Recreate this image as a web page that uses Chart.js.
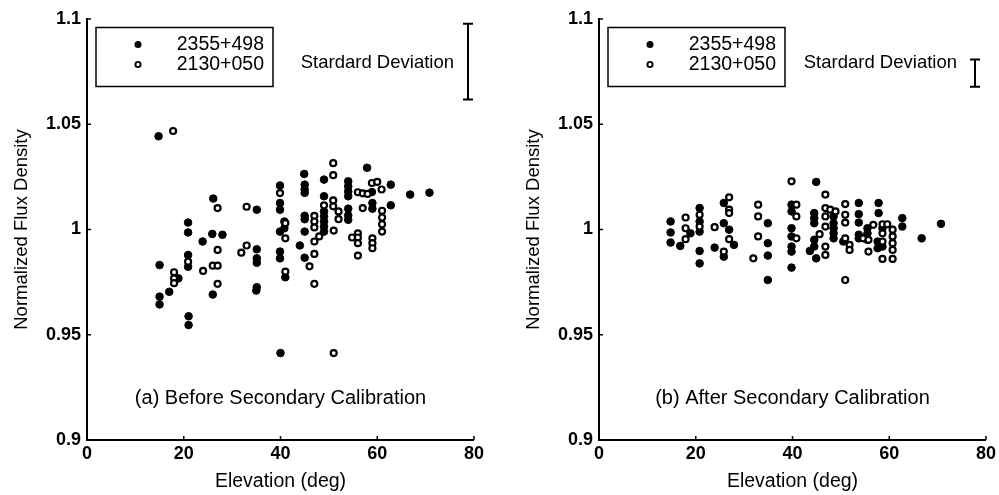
<!DOCTYPE html>
<html>
<head>
<title>Flux density vs elevation</title>
<script src="https://cdn.jsdelivr.net/npm/chart.js@4.4.1/dist/chart.umd.min.js"></script>
<style>
  body { margin: 0; background: #fff; }
  .panel { position: absolute; top: 0; width: 487px; height: 495px; }
</style>
</head>
<body>

<div class="panel" style="left:0px;"><canvas id="before" width="487" height="495"></canvas></div>
<div class="panel" style="left:512px;"><canvas id="after" width="487" height="495"></canvas></div>

<script>
// sources
var seriesNames = ['2355+498', '2130+050'];

// x ticks / y ticks
var xTicks = [0, 20, 40, 60, 80];
var yTicks = [0.9, 0.95, 1, 1.05, 1.1];

// (a) before secondary calibration  [elevation, normalized flux]
var beforeFilled = [[14.8,1.0443],[39.9,1.0209],[26.1,1.0147],[35.1,1.0094],[39.9,1.0126],[39.9,1.0094],
  [20.9,1.0033],[20.9,0.9986],[25.9,0.9979],[28.0,0.9975],[23.9,0.9943],[35.1,0.9906],[35.1,0.9863],
  [35.1,0.9842],[39.9,0.9895],[39.9,0.9863],[39.9,0.999],[15.0,0.9831],[20.9,0.9879],[20.9,0.9823],
  [18.9,0.9768],[35.1,0.9726],[35.0,0.9710],[15.0,0.9681],[15.0,0.9644],[17.0,0.9704],[21.0,0.9588],
  [21.0,0.9546],[26.0,0.9691],[41.0,0.9773],[40.0,0.9413],[57.9,1.0293],[44.9,1.0264],[49.0,1.0237],
  [45.0,1.0213],[45.0,1.0190],[45.0,1.0174],[54.0,1.0229],[54.0,1.0205],[54.0,1.0181],[54.0,1.0158],
  [58.9,1.0178],[62.8,1.0213],[66.8,1.0166],[70.8,1.0175],[49.0,1.0158],[54.0,1.0099],[54.0,1.0067],
  [54.0,1.0046],[59.0,1.0126],[59.0,1.0099],[62.8,1.0115],[45.0,1.0065],[45.0,1.0049],[49.0,1.0086],
  [49.0,1.0062],[49.0,1.0038],[49.0,1.0014],[49.0,0.999],[40.8,1.0038],[40.8,1.0006],[45.0,0.999],
  [44.0,0.9924],[45.0,0.9866]];
var beforeOpen = [[17.8,1.0468],[39.9,1.0173],[27.0,1.0102],[33.0,1.0108],[27.0,0.9903],[33.0,0.9924],
  [31.9,0.989],[41.0,1.003],[41.0,0.9958],[20.9,0.9847],[18.0,0.9797],[18.0,0.9768],[18.0,0.9745],
  [24.0,0.9803],[26.0,0.9828],[27.0,0.9828],[27.0,0.9742],[41.0,0.980],[47.0,0.9742],[51.0,0.9413],
  [50.9,1.0315],[50.9,1.0258],[56.0,1.0177],[57.0,1.0172],[58.0,1.0169],[58.9,1.0221],[60.0,1.0226],
  [60.9,1.0190],[49.0,1.0115],[50.9,1.0138],[50.9,1.011],[52.0,1.0086],[52.0,1.0049],[57.0,1.0102],
  [61.0,1.0089],[61.0,1.0057],[61.0,1.0025],[61.0,0.999],[47.0,1.0065],[47.0,1.0038],[47.0,1.001],
  [51.0,0.9995],[48.0,0.9967],[47.0,0.9943],[47.0,0.9884],[46.0,0.9825],[54.8,0.9962],[56.0,0.9982],
  [56.0,0.9962],[56.0,0.9935],[56.0,0.9876],[59.0,0.9958],[59.0,0.9935],[59.0,0.9911]];

// (b) after secondary calibration
var afterFilled = [[14.8,1.0038],[14.8,0.9986],[14.8,0.9938],[16.8,0.9922],[18.9,0.9982],[20.8,1.0102],
  [20.8,1.0038],[20.8,0.999],[20.8,0.9898],[20.8,0.9839],[23.9,0.9914],[25.8,1.0126],[25.8,1.003],
  [26.9,0.9999],[27.9,0.9927],[25.8,0.9871],[34.9,1.003],[34.9,0.9935],[34.9,0.9876],[34.9,0.976],
  [44.9,1.0226],[53.7,1.0126],[53.7,1.0073],[53.7,1.0033],[57.8,1.0126],[57.8,1.0078],[62.7,1.0054],
  [62.7,1.0014],[70.7,1.0027],[66.7,0.9958],[39.8,1.0118],[39.8,1.0086],[39.8,1.0006],[39.8,0.9967],
  [39.8,0.9919],[39.8,0.9895],[39.8,0.9819],[44.5,1.0078],[44.5,1.0054],[44.5,1.003],[44.5,0.9951],
  [44.5,0.9919],[43.6,0.9898],[44.9,0.9863],[48.5,1.0062],[48.5,1.003],[48.5,1.0006],[48.5,0.9982],
  [48.5,0.9958],[50.5,0.9943],[53.7,0.9975],[53.7,0.9958],[55.5,1.0006],[55.5,0.9982],[55.5,0.9951],
  [57.6,0.9943],[57.6,0.9911],[58.6,1.0006],[58.6,0.9919]];
var afterOpen = [[17.9,1.0057],[17.9,1.0006],[17.9,0.9954],[20.8,1.007],[20.8,1.0014],[23.9,1.0011],
  [26.9,1.0153],[26.9,1.0094],[26.9,1.0078],[26.9,0.9954],[25.8,0.9895],[32.9,1.0118],[32.9,1.0062],
  [32.9,0.9967],[31.9,0.9863],[39.8,1.0229],[46.8,1.0166],[50.9,1.0121],[50.9,1.007],[50.9,1.0033],
  [40.8,1.0118],[40.8,1.0062],[40.8,0.9958],[45.6,0.9978],[46.8,1.0102],[46.8,1.0062],[46.8,1.0014],
  [46.8,0.9919],[46.8,0.9879],[47.8,1.0094],[48.9,1.0086],[50.9,0.9958],[51.8,0.9927],[51.8,0.9903],
  [50.9,0.976],[54.6,0.9958],[56.7,1.0022],[55.7,0.9951],[55.7,0.9895],[58.6,1.0025],[59.6,1.0025],
  [58.6,0.9982],[58.6,0.9943],[60.7,0.9999],[60.7,0.9967],[60.7,0.9935],[60.7,0.9903],[58.6,0.986],
  [60.7,0.986]];

// standard deviation bars (length, centre)
var stdDev = [0.036, 0.013];
var stdCentre = [1.0798, 1.0743];

var FONT = "'Liberation Sans', Arial, Helvetica, sans-serif";

function toPts(arr) {
  return arr.map(function (p) { return { x: p[0], y: p[1] }; });
}

// axes ticks pointing inward, legend box, std dev bar and panel caption
var annot = {
  id: 'annot',
  afterDraw: function (chart, args, o) {
    var ctx = chart.ctx, a = chart.chartArea;
    var xs = chart.scales.x, ys = chart.scales.y;
    ctx.save();
    ctx.strokeStyle = '#000';
    ctx.fillStyle = '#000';

    ctx.lineWidth = 1.5;
    ctx.beginPath();
    ys.ticks.forEach(function (t) {
      var y = ys.getPixelForValue(t.value);
      ctx.moveTo(a.left, y); ctx.lineTo(a.left + 4, y);
    });
    xs.ticks.forEach(function (t) {
      var x = xs.getPixelForValue(t.value);
      ctx.moveTo(x, a.bottom); ctx.lineTo(x, a.bottom - 4);
    });
    ctx.stroke();

    // legend
    var bx = a.left + 9, by = a.top + 8.5;
    ctx.lineWidth = 1.5;
    ctx.strokeRect(bx, by, 177, 59);
    ctx.font = '19.5px ' + FONT;
    ctx.textAlign = 'right';
    ctx.textBaseline = 'middle';
    var mx = a.left + 51;
    ctx.beginPath(); ctx.arc(mx, by + 17, 3.5, 0, Math.PI * 2); ctx.fill();
    ctx.fillText(seriesNames[0], a.left + 177, by + 17);
    ctx.lineWidth = 1.9;
    ctx.beginPath(); ctx.arc(mx, by + 37, 2.6, 0, Math.PI * 2); ctx.stroke();
    ctx.fillText(seriesNames[1], a.left + 177, by + 37);

    // standard deviation bar
    var barX = a.left + o.barOffset;
    var yTop = ys.getPixelForValue(o.centre + o.std / 2);
    var yBot = ys.getPixelForValue(o.centre - o.std / 2);
    ctx.lineWidth = 2;
    ctx.beginPath();
    ctx.moveTo(barX, yTop); ctx.lineTo(barX, yBot);
    ctx.moveTo(barX - 5, yTop); ctx.lineTo(barX + 5, yTop);
    ctx.moveTo(barX - 5, yBot); ctx.lineTo(barX + 5, yBot);
    ctx.stroke();
    ctx.font = '18.5px ' + FONT;
    ctx.fillText('Stardard Deviation', barX - o.textGap, a.top + 44);

    // caption
    ctx.font = '20px ' + FONT;
    ctx.textAlign = 'center';
    ctx.fillText(o.caption, (a.left + a.right) / 2, a.bottom - 42);
    ctx.restore();
  }
};

function makeChart(id, filled, open, k, caption, padRight, barOffset, textGap) {
  var ctx = document.getElementById(id).getContext('2d');
  return new Chart(ctx, {
    type: 'scatter',
    data: {
      datasets: [{
        label: seriesNames[0],
        data: toPts(filled),
        order: 1,
        pointRadius: 3.8,
        pointBorderWidth: 1,
        backgroundColor: '#000',
        borderColor: '#000'
      }, {
        label: seriesNames[1],
        data: toPts(open),
        order: 0,
        pointRadius: 3,
        pointBorderWidth: 2.2,
        backgroundColor: '#fff',
        borderColor: '#000'
      }]
    },
    options: {
      responsive: false,
      animation: false,
      events: [],
      layout: { padding: { left: 0, top: 19, right: padRight, bottom: 0 } },
      plugins: {
        legend: { display: false },
        tooltip: { enabled: false },
        annot: { std: stdDev[k], centre: stdCentre[k], caption: caption, barOffset: barOffset, textGap: textGap }
      },
      scales: {
        x: {
          type: 'linear',
          min: 0, max: 80,
          afterBuildTicks: function (s) { s.ticks = xTicks.map(function (v) { return { value: v }; }); },
          afterFit: function (s) { s.height = 55; },
          grid: { display: true, drawOnChartArea: false, drawTicks: false },
          border: { display: true, color: '#000', width: 2 },
          ticks: { color: '#000', padding: 3, maxRotation: 0, font: { family: FONT, size: 18, weight: 'bold' } },
          title: { display: true, text: 'Elevation (deg)', color: '#000', padding: { top: 0, bottom: 2 },
                   font: { family: FONT, size: 19.5 } }
        },
        y: {
          type: 'linear',
          min: 0.9, max: 1.1,
          afterBuildTicks: function (s) { s.ticks = yTicks.map(function (v) { return { value: v }; }); },
          afterFit: function (s) { s.width = 87; },
          grid: { display: true, drawOnChartArea: false, drawTicks: false },
          border: { display: true, color: '#000', width: 2 },
          ticks: { color: '#000', padding: 6, font: { family: FONT, size: 18, weight: 'bold' },
                   callback: function (v) { return String(+v.toFixed(2)); } },
          title: { display: true, text: 'Normalized Flux Density', color: '#000', padding: { top: 11, bottom: 0 },
                   font: { family: FONT, size: 18.5 } }
        }
      }
    },
    plugins: [annot]
  });
}

makeChart('before', beforeFilled, beforeOpen, 0, '(a) Before Secondary Calibration', 10, 381, 14);
makeChart('after', afterFilled, afterOpen, 1, '(b) After Secondary Calibration', 12, 376, 18);
</script>
</body>
</html>
